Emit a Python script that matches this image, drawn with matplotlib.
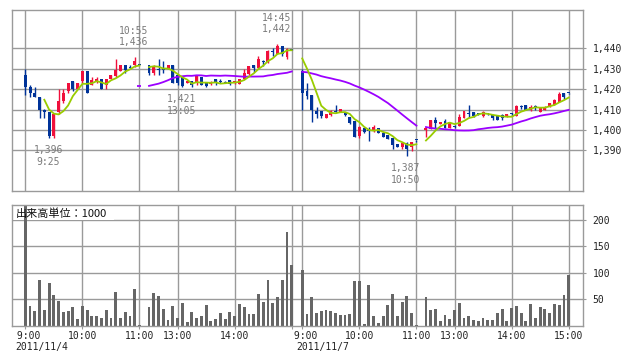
import numpy as np
import pandas as pd
import matplotlib
matplotlib.use("Agg")
import matplotlib.pyplot as plt
from matplotlib.ticker import FuncFormatter, FixedLocator
from matplotlib.patches import Rectangle

# ---------------- data ----------------
dates = ["2011/11/4", "2011/11/7"]
am_times = pd.date_range("2011-11-04 09:00", "2011-11-04 11:00", freq="5min").strftime("%H:%M").tolist()
pm_times = pd.date_range("2011-11-04 12:30", "2011-11-04 15:00", freq="5min").strftime("%H:%M").tolist()
times = am_times + pm_times  # 56 bars per day

d1_open = [1427, 1421, 1418, 1416, 1410, 1409, 1397, 1409, 1414, 1419, 1424, 1420, 1424, 1429, 1422, 1423.5,
           1425, 1422, 1425, 1426.5, 1429, 1432, 1431, 1432, 1432.2,
           1432, 1428, 1430, 1430, 1430, 1432, 1427, 1426.5, 1423, 1424, 1423, 1426, 1423, 1422.5, 1425, 1423.8,
           1423.5, 1424.5, 1422.8, 1422.5, 1425, 1427.5, 1432, 1430.2, 1433.7, 1433.5, 1438.5, 1437, 1441.3, 1436, 1439.5]
d1_high = [1430, 1422, 1421, 1416, 1410.5, 1409, 1408, 1420, 1420, 1423, 1424, 1423, 1429, 1429, 1426, 1426,
           1425, 1425, 1427, 1435, 1432, 1432, 1432, 1436, 1432.3,
           1432, 1432, 1435, 1434, 1432, 1432, 1427, 1426.5, 1424, 1424, 1427, 1426, 1423.5, 1424, 1425, 1425,
           1424, 1424.5, 1424, 1425, 1430, 1431.5, 1432, 1436.4, 1434.3, 1439, 1440, 1442, 1441.3, 1440, 1439.5]
d1_low = [1417, 1416, 1416, 1406, 1406, 1396, 1396, 1408, 1413, 1418, 1419, 1420, 1423, 1418, 1422, 1423,
          1420, 1420, 1425, 1426, 1429, 1428, 1430, 1431, 1431.8,
          1427, 1427, 1427, 1428, 1430, 1423, 1422, 1421, 1423, 1421, 1422, 1422, 1421, 1422, 1422, 1422.8,
          1422.8, 1422, 1422.5, 1422.5, 1425, 1427, 1428.6, 1430, 1431.5, 1433, 1436.4, 1437, 1436.4, 1435, 1439]
d1_close = [1421, 1418, 1416, 1410, 1409, 1397, 1408, 1414, 1418, 1423, 1420, 1423, 1429, 1418, 1424.5, 1425,
            1420, 1425, 1427, 1429.5, 1432, 1429.5, 1430.5, 1434, 1432,
            1428, 1431.5, 1429.5, 1429.5, 1432, 1423, 1423, 1421.5, 1424, 1422, 1426.5, 1422, 1421.5, 1423.5, 1423, 1423.5,
            1423, 1422.5, 1424, 1425, 1427.7, 1431.3, 1430.5, 1434.8, 1433.3, 1438.7, 1438.2, 1441.3, 1437, 1439.7, 1439.2]
d1_vol = [226, 37, 28, 87, 30, 81, 58, 47, 26, 28, 35, 13, 37, 30, 18, 18, 16, 30, 15, 64, 15, 26, 18, 70, 1.5,
          35, 62, 56, 32, 11, 37, 15, 43, 7, 26, 16, 18, 39, 9, 13, 24, 13, 26, 18, 41, 35, 22, 22, 60, 45, 87,
          43, 54, 87, 178, 115]

d2_open = [1429, 1419, 1417, 1409.3, 1409.3, 1406, 1407.3, 1409.3, 1409, 1409, 1406.5, 1404.4, 1397, 1400.8, 1400,
           1399.5, 1400.7, 1398.7, 1397.4, 1396.2, 1393.3, 1391.6, 1393.6, 1391.6, 1395,
           1400, 1400.5, 1405, 1403, 1404.6, 1400.8, 1402, 1401.8, 1406, 1408.5, 1408.7, 1408, 1406.6, 1408, 1407.4,
           1406.7, 1407.2, 1406.4, 1408, 1406.8, 1411.6, 1412.2, 1409.8, 1411.4, 1409, 1409.8, 1411.4, 1412.2, 1413.9,
           1418, 1418]
d2_high = [1430, 1423, 1417, 1411.4, 1409.3, 1408, 1409.8, 1412, 1410.3, 1409, 1406.5, 1404.4, 1402, 1401, 1401.5,
           1402.5, 1401, 1399, 1397.4, 1396.2, 1393.3, 1393.6, 1394, 1394, 1395.3,
           1401, 1405, 1406.2, 1404.1, 1405.4, 1404.1, 1402.5, 1407.9, 1409.5, 1412, 1409, 1408.3, 1409.2, 1408.5, 1407.5,
           1407, 1408, 1408, 1408.3, 1412.2, 1412.2, 1412.2, 1412, 1412.2, 1411.2, 1411.6, 1413, 1415, 1418.5,
           1418, 1418]
d2_low = [1410, 1415, 1404, 1406, 1406, 1406, 1407, 1408.5, 1408.8, 1406.8, 1403, 1396.5, 1395.9, 1398.5, 1394.6,
          1399, 1398.5, 1396.5, 1395.5, 1390.5, 1391.4, 1390.5, 1387, 1389.7, 1394,
          1396.5, 1400.5, 1400.5, 1403, 1401, 1400.8, 1401, 1401.8, 1405.9, 1406.2, 1406.5, 1407.3, 1406.5, 1407.3, 1405,
          1404.8, 1404.8, 1406.4, 1407, 1406.8, 1410.3, 1409.8, 1409.5, 1410, 1408.6, 1409.8, 1411, 1412, 1413.9,
          1415, 1417.8]
d2_close = [1418, 1416.5, 1410, 1407.8, 1407, 1407.8, 1409.3, 1409, 1410.3, 1407.3, 1403.2, 1396.7, 1401.6, 1398.8,
            1399.6, 1401.5, 1398.5, 1396.6, 1395.7, 1392.5, 1391.6, 1393.6, 1390.8, 1394, 1394.9,
            1400.8, 1405, 1403.6, 1404.1, 1401, 1404.1, 1401.5, 1406.2, 1409.2, 1408, 1407, 1407.8, 1408.7, 1407.8, 1405.7,
            1405, 1405.9, 1408, 1407.7, 1411.9, 1411.2, 1409.8, 1411.4, 1411.2, 1410.9, 1411.4, 1413, 1414.7, 1417.5,
            1416.3, 1417.9]
d2_vol = [106, 22, 54, 24, 28, 30, 28, 24, 20, 20, 22, 85, 85, 3, 77, 18, 5, 18, 39, 60, 18, 45, 56, 24, 1.5,
          54, 30, 32, 9, 20, 13, 30, 43, 16, 18, 11, 9, 16, 11, 11, 24, 32, 9, 34, 37, 24, 9, 41, 15, 35, 32,
          24, 41, 39, 58, 97]

price_ticks = [1390, 1400, 1410, 1420, 1430, 1440]
vol_ticks = [50, 100, 150, 200]
tick_times = ["9:00", "10:00", "11:00", "13:00", "14:00", "15:00"]
vol_unit_label = "出来高単位：1000"
# labelled extremes: (day, time, kind)
marks = [(0, "09:25", "low"), (0, "10:55", "high"), (0, "13:05", "low"), (0, "14:45", "high"), (1, "10:50", "low")]

# ---------------- layout helpers ----------------
DAY_OFFSET = 58.2  # slot position of day-2 open


def slot(t):
    h, m = map(int, t.split(":"))
    mins = h * 60 + m
    if mins <= 11 * 60:
        return (mins - 9 * 60) / 5
    return (mins - (12 * 60 + 30)) / 5 + 26


days = []
for d, (o, h, l, c, v) in enumerate([(d1_open, d1_high, d1_low, d1_close, d1_vol),
                                      (d2_open, d2_high, d2_low, d2_close, d2_vol)]):
    df = pd.DataFrame({"time": times, "open": o, "high": h, "low": l, "close": c, "vol": v})
    df["day"] = d
    df["x"] = [slot(t) + d * DAY_OFFSET for t in times]
    df["session"] = [d * 2 + (0 if slot(t) <= 24 else 1) for t in times]
    days.append(df)
data = pd.concat(days, ignore_index=True)
data["ma5"] = data["close"].rolling(5).mean()
data["ma25"] = data["close"].rolling(25).mean()

UP, DOWN = "#f0103c", "#003399"
GRID = "#9a9a9a"
plt.rcParams["font.family"] = ["DejaVu Sans Mono", "DejaVu Sans"]

fig = plt.figure(figsize=(6.38, 3.62), dpi=100)
W, H = 638, 362
ax = fig.add_axes([12.3 / W, 1 - 190.7 / H, 570.4 / W, 180.7 / H])
axv = fig.add_axes([12.3 / W, 1 - 326 / H, 570.4 / W, 121 / H])

xt = [slot(t) + d * DAY_OFFSET for d in range(2) for t in tick_times]
xl = [(" " + t if len(t) == 4 else t) for d in range(2) for t in tick_times]
xl[5] = ""

for a in (ax, axv):
    a.set_xlim(-2.73, 117.14)
    a.set_axisbelow(True)
    a.xaxis.set_major_locator(FixedLocator(xt))
    a.grid(True, color=GRID, lw=1.0)
    for s in a.spines.values():
        s.set_color(GRID)
        s.set_linewidth(1.0)
    a.yaxis.tick_right()
    a.tick_params(axis="y", length=2, color=GRID, labelsize=7, pad=5, labelcolor="#222222")

# ---------------- candles ----------------
up = data["close"] >= data["open"]
colors = np.where(up, UP, DOWN)
bottoms = np.minimum(data["open"], data["close"])
heights = np.maximum(np.abs(data["close"] - data["open"]), 0.5)
ax.vlines(data["x"], data["low"], data["high"], colors=colors, lw=1.0, zorder=2)
ax.bar(data["x"], heights, bottom=bottoms, width=0.62, color=colors, linewidth=0, zorder=3)

for sess, g in data.groupby("session"):
    for col, c in (("ma25", "#9b00ff"), ("ma5", "#99cc00")):
        gg = g.dropna(subset=[col])
        if len(gg) == 1:
            ax.plot(gg["x"], gg[col], marker="_", ms=3, mew=1.3, color=c, zorder=4)
        elif len(gg) > 1:
            ax.plot(gg["x"], gg[col], color=c, lw=1.3, zorder=4)

ax.set_ylim(1370.2, 1458.8)
ax.yaxis.set_major_locator(FixedLocator(price_ticks))
ax.yaxis.set_major_formatter(FuncFormatter(lambda v, p: f"{int(v):,}"))
ax.tick_params(axis="x", length=0, labelbottom=False)

# extreme labels
pt = 72 / 100
for d, t, kind in marks:
    row = data[(data["day"] == d) & (data["time"] == t)].iloc[0]
    val = row["high"] if kind == "high" else row["low"]
    lines = [t.lstrip("0"), f"{int(round(val)):,}"]
    if kind == "high":
        offs = [26, 15]
    else:
        lines = lines[::-1]
        offs = [-12, -24]
    for txt, off in zip(lines, offs):
        ax.annotate(txt, (row["x"], val), xytext=(-1 * pt, off * pt), textcoords="offset points",
                    ha="center", va="center", fontsize=7, color="#7a7a7a", zorder=5)

# ---------------- volume ----------------
axv.bar(data["x"], data["vol"], width=0.6, color="#666666", linewidth=0, zorder=2)
axv.set_ylim(0, 228)
axv.yaxis.set_major_locator(FixedLocator(vol_ticks))
axv.set_xticklabels(xl)
axv.tick_params(axis="x", length=2, color=GRID, labelsize=7, pad=1.5, labelcolor="#222222")

axv.add_patch(Rectangle((0, 1 - 15 / 121), 102 / 570.4, 15 / 121, transform=axv.transAxes,
                        facecolor="white", edgecolor="none", zorder=1))
axv.text(3.7 / 570.4, 1 - 8.5 / 121, vol_unit_label, transform=axv.transAxes, ha="left", va="center",
         fontsize=8, family=["Noto Sans CJK JP", "DejaVu Sans"], color="#111111", zorder=3)

date_dx = [-10.3, -5.5]
for d, lab in enumerate(dates):
    axv.annotate(lab, (d * DAY_OFFSET, 0), xycoords=("data", "axes fraction"),
                 xytext=(date_dx[d] * pt, -21 * pt), textcoords="offset points",
                 ha="left", va="center", fontsize=7, color="#222222")

fig.savefig("out.png", dpi=100)
